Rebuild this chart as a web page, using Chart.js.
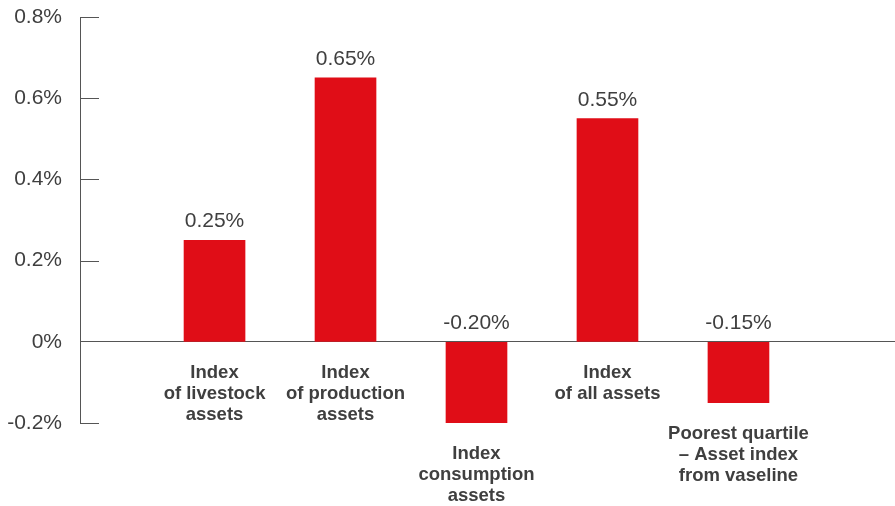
<!DOCTYPE html>
<html>
<head>
<meta charset="utf-8">
<script src="https://cdn.jsdelivr.net/npm/chart.js@4.4.1/dist/chart.umd.min.js"></script>
<style>
  html, body { margin: 0; padding: 0; background: #fff; }
  #wrap { width: 895px; height: 506px; position: relative; }
</style>
</head>
<body>
<div id="wrap"><canvas id="chart"></canvas></div>
<script>
// data
const categories = [
  ['Index', 'of livestock', 'assets'],
  ['Index', 'of production', 'assets'],
  ['Index', 'consumption', 'assets'],
  ['Index', 'of all assets'],
  ['Poorest quartile', '\u2013 Asset index', 'from vaseline']
];
const values = [0.25, 0.65, -0.20, 0.55, -0.15];
const valueLabels = ['0.25%', '0.65%', '-0.20%', '0.55%', '-0.15%'];
const yTicks = [-0.2, 0, 0.2, 0.4, 0.6, 0.8];

const RED = '#e00d17';
const TEXT = '#3f3f3f';
const AXIS = '#555555';

// short tick marks pointing into the plot + bar annotations
const annotate = {
  id: 'annotate',
  afterDatasetsDraw(chart) {
    const { ctx, chartArea } = chart;
    const y = chart.scales.y;
    ctx.save();
    ctx.strokeStyle = AXIS;
    ctx.lineWidth = 1;
    yTicks.forEach(v => {
      if (v === 0) return;
      const py = Math.round(y.getPixelForValue(v)) + 0.5;
      ctx.beginPath();
      ctx.moveTo(chartArea.left, py);
      ctx.lineTo(chartArea.left + 19, py);
      ctx.stroke();
    });

    const meta = chart.getDatasetMeta(0);
    const zero = y.getPixelForValue(0);
    meta.data.forEach((bar, i) => {
      const v = values[i];
      // value label
      ctx.fillStyle = TEXT;
      ctx.font = '21px "Liberation Sans", Arial, sans-serif';
      ctx.textAlign = 'center';
      ctx.textBaseline = 'alphabetic';
      const top = v >= 0 ? bar.y : zero;
      ctx.fillText(valueLabels[i], bar.x, top - 13);
      // category label
      ctx.font = 'bold 18.5px "Liberation Sans", Arial, sans-serif';
      ctx.textBaseline = 'top';
      const start = (v >= 0 ? zero : bar.y) + 22;
      categories[i].forEach((line, k) => {
        ctx.fillText(line, bar.x, start + k * 21);
      });
    });
    ctx.restore();
  }
};

new Chart(document.getElementById('chart'), {
  type: 'bar',
  data: {
    datasets: [{
      data: values.map((v, i) => ({ x: i + 1, y: v })),
      backgroundColor: RED,
      borderWidth: 0,
      barThickness: 61
    }]
  },
  options: {
    responsive: true,
    maintainAspectRatio: false,
    animation: false,
    layout: { padding: { top: 17, bottom: 83, right: 0, left: 0 } },
    plugins: { legend: { display: false }, tooltip: { enabled: false } },
    scales: {
      x: {
        type: 'linear',
        offset: false,
        min: -0.027,
        max: 6.195,
        display: false
      },
      y: {
        min: -0.2,
        max: 0.8,
        afterFit: s => { s.width = 80; s.paddingTop = 0; s.paddingBottom = 0; },
        afterBuildTicks: s => { s.ticks = yTicks.map(v => ({ value: v })); },
        ticks: {
          padding: 18,
          color: TEXT,
          font: { family: '"Liberation Sans", Arial, sans-serif', size: 21 },
          callback: v => (Math.round(v * 10) / 10) + '%'
        },
        grid: {
          drawTicks: false,
          color: c => (c.tick && c.tick.value === 0) ? AXIS : 'rgba(0,0,0,0)',
          lineWidth: 1
        },
        border: { display: true, color: AXIS, width: 1 }
      }
    }
  },
  plugins: [annotate]
});
</script>
</body>
</html>
